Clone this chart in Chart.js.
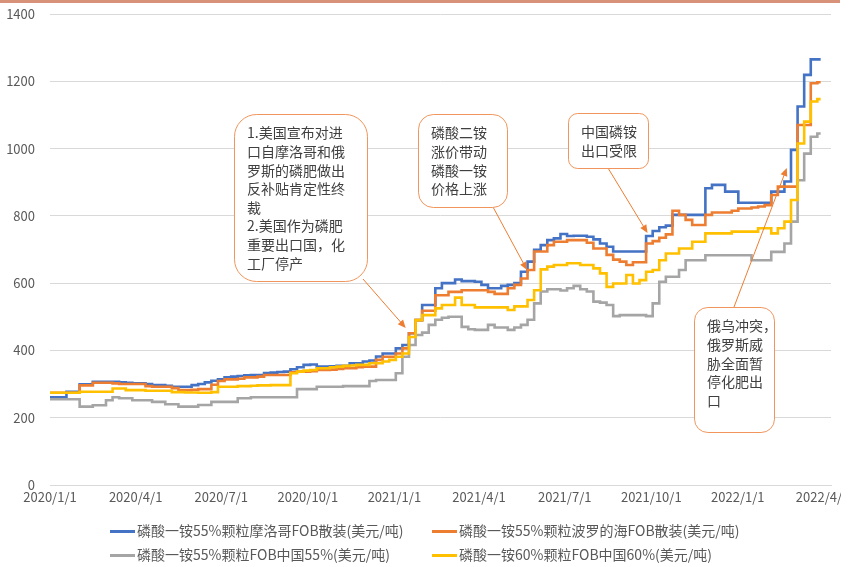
<!DOCTYPE html>
<html>
<head>
<meta charset="utf-8">
<script src="https://cdn.jsdelivr.net/npm/chart.js@4"></script>
<style>
  body { margin: 0; background: #fff; }
  #wrap { position: relative; width: 866px; height: 567px; overflow: hidden; font-family: "Noto Sans CJK SC", sans-serif; }
  #topbar { position: absolute; left: 0; top: 0; width: 840px; height: 3px; background: #D9927A; }
  #box { position: absolute; left: 0; top: 0; width: 841px; height: 567px; }
  .lg { position: absolute; font-size: 14px; color: #595959; white-space: nowrap; line-height: 18px; }
  .lg i { display: inline-block; width: 25px; height: 3px; vertical-align: middle; margin-right: 2px; position: relative; top: -1px; }
</style>
</head>
<body>
<div id="wrap">
  <div id="box"><canvas id="myChart" width="841" height="567"></canvas></div>
  <div id="topbar"></div>
  <div id="legend"></div>
</div>
<script>
'use strict';

// 周度数据，起点 2020/1/1，每 7 天一个点
const startDate = '2020/1/1';
const stepDays = 7;
const axisEnd = '2022/4/10';

const tickLabels = ['2020/1/1', '2020/4/1', '2020/7/1', '2020/10/1', '2021/1/1',
  '2021/4/1', '2021/7/1', '2021/10/1', '2022/1/1', '2022/4/1'];

const seriesNames = [
  '磷酸一铵55%颗粒摩洛哥FOB散装(美元/吨)',
  '磷酸一铵55%颗粒波罗的海FOB散装(美元/吨)',
  '磷酸一铵55%颗粒FOB中国55%(美元/吨)',
  '磷酸一铵60%颗粒FOB中国60%(美元/吨)'
];
const seriesColors = ['#4472C4', '#ED7D31', '#A5A5A5', '#FFC000'];

const morocco = [
  261, 261, 261, 277, 277, 299, 299, 307, 307, 307,
  307, 305, 304, 302, 302, 300, 297, 297, 295, 292,
  292, 292, 297, 300, 305, 310, 314, 320, 322, 324,
  326, 327, 327, 333, 334, 336, 337, 344, 350, 357,
  358, 352, 352, 353, 354, 354, 362, 362, 367, 370,
  382, 391, 391, 406, 416, 451, 490, 535, 535, 585,
  600, 600, 611, 606, 606, 604, 595, 585, 585, 592,
  595, 600, 634, 664, 699, 713, 728, 733, 746, 740,
  741, 741, 738, 730, 718, 708, 694, 694, 694, 694,
  694, 740, 755, 766, 771, 803, 803, 803, 803, 803,
  882, 892, 892, 872, 872, 839, 839, 839, 839, 839,
  872, 872, 902, 996, 1125, 1219, 1265, 1265
];
const baltic = [
  274, 274, 274, 274, 274, 296, 296, 304, 304, 304,
  302, 300, 300, 300, 300, 294, 292, 292, 292, 288,
  282, 282, 283, 285, 285, 298, 309, 314, 314, 316,
  320, 320, 322, 327, 327, 327, 327, 335, 337, 337,
  338, 342, 342, 343, 345, 347, 347, 350, 352, 352,
  372, 381, 381, 391, 406, 451, 490, 518, 518, 564,
  564, 574, 574, 579, 579, 579, 579, 574, 568, 568,
  585, 595, 614, 639, 694, 694, 713, 723, 723, 728,
  728, 728, 720, 703, 703, 684, 670, 664, 654, 662,
  662, 718, 725, 735, 745, 815, 803, 788, 773, 773,
  803, 810, 810, 810, 815, 822, 822, 825, 828, 832,
  862, 887, 887, 887, 1070, 1070, 1194, 1197
];
const china55 = [
  255, 255, 255, 255, 255, 233, 233, 237, 237, 252,
  261, 258, 258, 252, 252, 252, 247, 247, 240, 240,
  233, 233, 233, 238, 238, 247, 247, 247, 247, 258,
  258, 261, 261, 261, 261, 261, 261, 261, 285, 285,
  285, 292, 292, 292, 292, 294, 294, 294, 294, 309,
  312, 312, 312, 332, 381, 416, 446, 453, 476, 491,
  497, 500, 500, 470, 463, 461, 461, 476, 468, 468,
  461, 468, 476, 491, 540, 575, 582, 582, 578, 585,
  592, 582, 575, 545, 542, 535, 502, 505, 505, 505,
  505, 502, 540, 604, 619, 619, 639, 668, 668, 668,
  683, 683, 683, 683, 683, 683, 683, 668, 668, 668,
  693, 693, 718, 783, 906, 985, 1035, 1045
];
const china60 = [
  274, 274, 274, 274, 274, 277, 277, 277, 277, 277,
  287, 287, 282, 282, 282, 280, 280, 280, 280, 276,
  276, 275, 275, 274, 274, 276, 292, 292, 292, 294,
  294, 295, 296, 296, 297, 297, 297, 332, 337, 340,
  342, 347, 347, 350, 352, 354, 355, 357, 357, 362,
  362, 367, 372, 381, 391, 440, 490, 505, 505, 525,
  535, 535, 557, 535, 535, 528, 528, 528, 528, 528,
  520, 531, 531, 550, 579, 641, 649, 654, 654, 659,
  659, 654, 654, 644, 629, 589, 599, 599, 624, 599,
  609, 634, 639, 668, 688, 688, 703, 703, 723, 723,
  748, 748, 748, 748, 753, 753, 753, 753, 763, 763,
  748, 763, 783, 847, 1015, 1080, 1140, 1147
];

// 标注
const noteTexts = [
  ['1.美国宣布对进', '口自摩洛哥和俄', '罗斯的磷肥做出', '反补贴肯定性终', '裁', '2.美国作为磷肥', '重要出口国，化', '工厂停产'],
  ['磷酸二铵', '涨价带动', '磷酸一铵', '价格上涨'],
  ['中国磷铵', '出口受限'],
  ['俄乌冲突，', '俄罗斯威', '胁全面暂', '停化肥出', '口']
];
const noteBoxes = [[234, 114, 133, 167], [418, 114, 89, 93], [568, 113, 80, 55], [694, 307, 80, 125]];
const noteFrom = [[363, 279], [493, 207], [608, 168], [734, 307]];
const noteTips = [['2021/1/13', 467], ['2021/5/22', 639], ['2021/9/27', 749], ['2022/2/22', 942]];

function dayOf(s) {
  const p = s.split('/').map(Number);
  const b = startDate.split('/').map(Number);
  return Math.round((Date.UTC(p[0], p[1] - 1, p[2]) - Date.UTC(b[0], b[1] - 1, b[2])) / 86400000);
}
const tickDays = tickLabels.map(dayOf);

const toPoints = (arr) => arr.map((v, i) => ({ x: i * stepDays, y: v }));

const allSeries = [morocco, baltic, china55, china60];
const datasets = allSeries.map((arr, i) => ({
  label: seriesNames[i],
  data: toPoints(arr),
  borderColor: seriesColors[i],
  backgroundColor: seriesColors[i],
  borderWidth: 2.6,
  pointRadius: 0,
  stepped: 'middle',
  order: 4 - i
}));

const notesPlugin = {
  id: 'notes',
  afterDatasetsDraw(chart) {
    const ctx = chart.ctx;
    const xs = chart.scales.x, ys = chart.scales.y;
    ctx.save();
    noteBoxes.forEach((b, k) => {
      const [x, y, w, h] = b;
      const r = Math.min(w, h) / 6;
      // 箭头
      const fx = noteFrom[k][0], fy = noteFrom[k][1];
      const tx = xs.getPixelForValue(dayOf(noteTips[k][0]));
      const ty = ys.getPixelForValue(noteTips[k][1]);
      const ang = Math.atan2(ty - fy, tx - fx);
      ctx.strokeStyle = '#ED7D31';
      ctx.fillStyle = '#ED7D31';
      ctx.lineWidth = 1;
      ctx.beginPath();
      ctx.moveTo(fx, fy);
      ctx.lineTo(tx - 6 * Math.cos(ang), ty - 6 * Math.sin(ang));
      ctx.stroke();
      ctx.beginPath();
      ctx.moveTo(tx, ty);
      ctx.lineTo(tx - 8 * Math.cos(ang) + 3.5 * Math.sin(ang), ty - 8 * Math.sin(ang) - 3.5 * Math.cos(ang));
      ctx.lineTo(tx - 8 * Math.cos(ang) - 3.5 * Math.sin(ang), ty - 8 * Math.sin(ang) + 3.5 * Math.cos(ang));
      ctx.closePath();
      ctx.fill();
      // 圆角框
      ctx.beginPath();
      ctx.roundRect(x + 0.5, y + 0.5, w, h, r);
      ctx.fillStyle = '#fff';
      ctx.fill();
      ctx.strokeStyle = '#F0955C';
      ctx.stroke();
      // 文字
      ctx.fillStyle = '#404040';
      ctx.font = '14px "Noto Sans CJK SC"';
      ctx.textBaseline = 'middle';
      noteTexts[k].forEach((t, j) => {
        ctx.fillText(t, x + 13, y + 19 + j * 18.6);
      });
    });
    ctx.restore();
  }
};

const options = {
  responsive: false,
  animation: false,
  devicePixelRatio: 1,
  layout: { padding: { top: 14, right: 10, bottom: 52, left: 0 } },
  plugins: {
    legend: { display: false },
    tooltip: { enabled: false }
  },
  scales: {
    x: {
      type: 'linear',
      min: 0,
      max: dayOf(axisEnd),
      grid: { display: false, drawTicks: false },
      border: { display: true, color: '#D9D9D9' },
      afterBuildTicks: (scale) => {
        scale.ticks = tickDays.map((v) => ({ value: v }));
      },
      afterFit: (scale) => {
        scale.height = 30;
        scale.paddingLeft = 0;
        scale.paddingRight = 0;
      },
      ticks: {
        autoSkip: false,
        maxRotation: 0,
        padding: 4,
        color: '#595959',
        font: { family: '"Noto Sans CJK SC"', size: 13 },
        callback: (val) => tickLabels[tickDays.indexOf(val)]
      }
    },
    y: {
      min: 0,
      max: 1400,
      ticks: {
        stepSize: 200,
        padding: 15,
        color: '#595959',
        font: { family: '"Noto Sans CJK SC"', size: 13 },
        callback: (val) => String(val)
      },
      grid: { color: '#D9D9D9', drawTicks: false },
      border: { display: false },
      afterFit: (scale) => {
        scale.width = 50;
        scale.paddingTop = 0;
        scale.paddingBottom = 0;
      }
    }
  }
};

new Chart(document.getElementById('myChart'), {
  type: 'line',
  data: { datasets: datasets },
  options: options,
  plugins: [notesPlugin]
});

// 图例（两列对齐）
const legendPos = [[110, 521], [432, 521], [110, 545], [432, 545]];
const legend = document.getElementById('legend');
seriesNames.forEach((name, i) => {
  const d = document.createElement('div');
  d.className = 'lg';
  d.style.left = legendPos[i][0] + 'px';
  d.style.top = legendPos[i][1] + 'px';
  d.innerHTML = '<i style="background:' + seriesColors[i] + '"></i>' + name;
  legend.appendChild(d);
});
</script>
</body>
</html>
